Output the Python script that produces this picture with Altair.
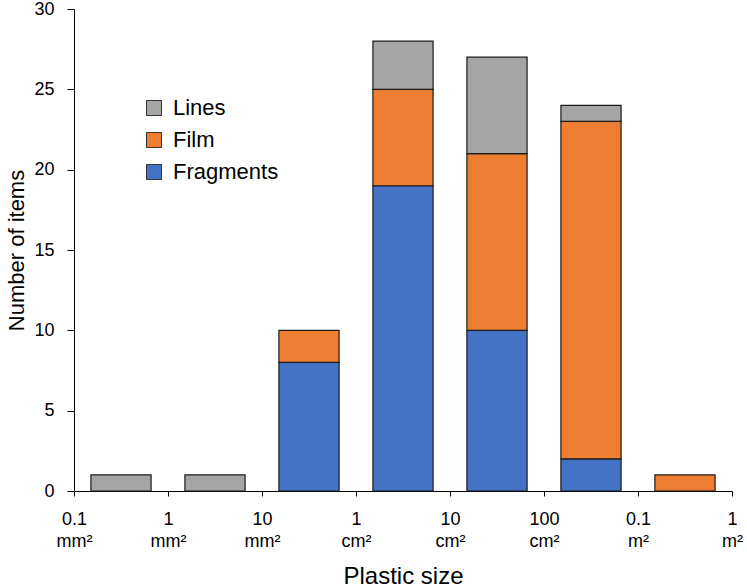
import altair as alt
import pandas as pd

# Size classes (bin boundaries are the tick labels below)
bins = [0, 1, 2, 3, 4, 5, 6]
tick_labels = ["0.1\nmm²", "1\nmm²", "10\nmm²", "1\ncm²", "10\ncm²", "100\ncm²", "0.1\nm²", "1\nm²"]

# Item counts per size class
fragments = [0, 0, 8, 19, 10, 2, 0]
film = [0, 0, 2, 6, 11, 21, 1]
lines = [1, 1, 0, 3, 6, 1, 0]

types = ["Lines", "Film", "Fragments"]
colors = ["#A5A5A5", "#ED7D31", "#4472C4"]
stack_rank = {"Fragments": 0, "Film": 1, "Lines": 2}

rows = []
for i, b in enumerate(bins):
    for name, series in (("Fragments", fragments), ("Film", film), ("Lines", lines)):
        if series[i] > 0:
            rows.append({"bin": b, "type": name, "count": series[i], "rank": stack_rank[name]})
df = pd.DataFrame(rows)

label_js = "[" + ",".join("'" + t.replace("\n", "\\n") + "'" for t in tick_labels) + "]"

FONT = "Liberation Sans"

chart = (
    alt.Chart(df)
    .transform_stack(
        stack="count",
        groupby=["bin"],
        as_=["y0", "y1"],
        sort=[alt.SortField("rank", order="ascending")],
    )
    .transform_calculate(x0="datum.bin + 0.18", x1="datum.bin + 0.82")
    .mark_bar(stroke="#1a1a1a", strokeWidth=1.2)
    .encode(
        x=alt.X(
            "x0:Q",
            scale=alt.Scale(domain=[0, 7], nice=False, zero=False),
            axis=alt.Axis(
                title="Plastic size",
                values=list(range(8)),
                labelExpr=f"split({label_js}[datum.value], '\\n')",
                labelLineHeight=22,
                labelFontSize=18,
                labelPadding=14,
                tickSize=5,
                titleFontSize=24,
                titleFontWeight="normal",
                titlePadding=14,
                grid=False,
                labelFlush=False,
            ),
        ),
        x2="x1:Q",
        y=alt.Y(
            "y0:Q",
            scale=alt.Scale(domain=[0, 30], nice=False),
            axis=alt.Axis(
                title="Number of items",
                values=[0, 5, 10, 15, 20, 25, 30],
                labelFontSize=18,
                labelPadding=13,
                tickSize=7,
                titleFontSize=22,
                titleFontWeight="normal",
                titlePadding=5,
                grid=False,
            ),
        ),
        y2="y1:Q",
        color=alt.Color(
            "type:N",
            scale=alt.Scale(domain=types, range=colors),
            legend=alt.Legend(
                title=None,
                orient="none",
                legendX=69,
                legendY=88,
                symbolType="square",
                symbolSize=225,
                symbolStrokeColor="#333333",
                symbolStrokeWidth=1,
                symbolOpacity=1,
                labelFontSize=22,
                labelOffset=8,
                rowPadding=10,
            ),
        ),
    )
    .properties(
        width=658,
        height=482,
        autosize=alt.AutoSizeParams(type="none"),
        padding={"left": 74, "top": 9, "right": 15, "bottom": 96},
    )
    .configure_view(stroke=None)
    .configure_axis(
        domainColor="#000000",
        tickColor="#000000",
        labelColor="#000000",
        titleColor="#000000",
        labelFont=FONT,
        titleFont=FONT,
        domainWidth=1,
        tickWidth=1,
    )
    .configure_legend(labelFont=FONT, labelColor="#000000")
)

chart.save("out.html", embed_options={"renderer": "svg", "actions": False})
